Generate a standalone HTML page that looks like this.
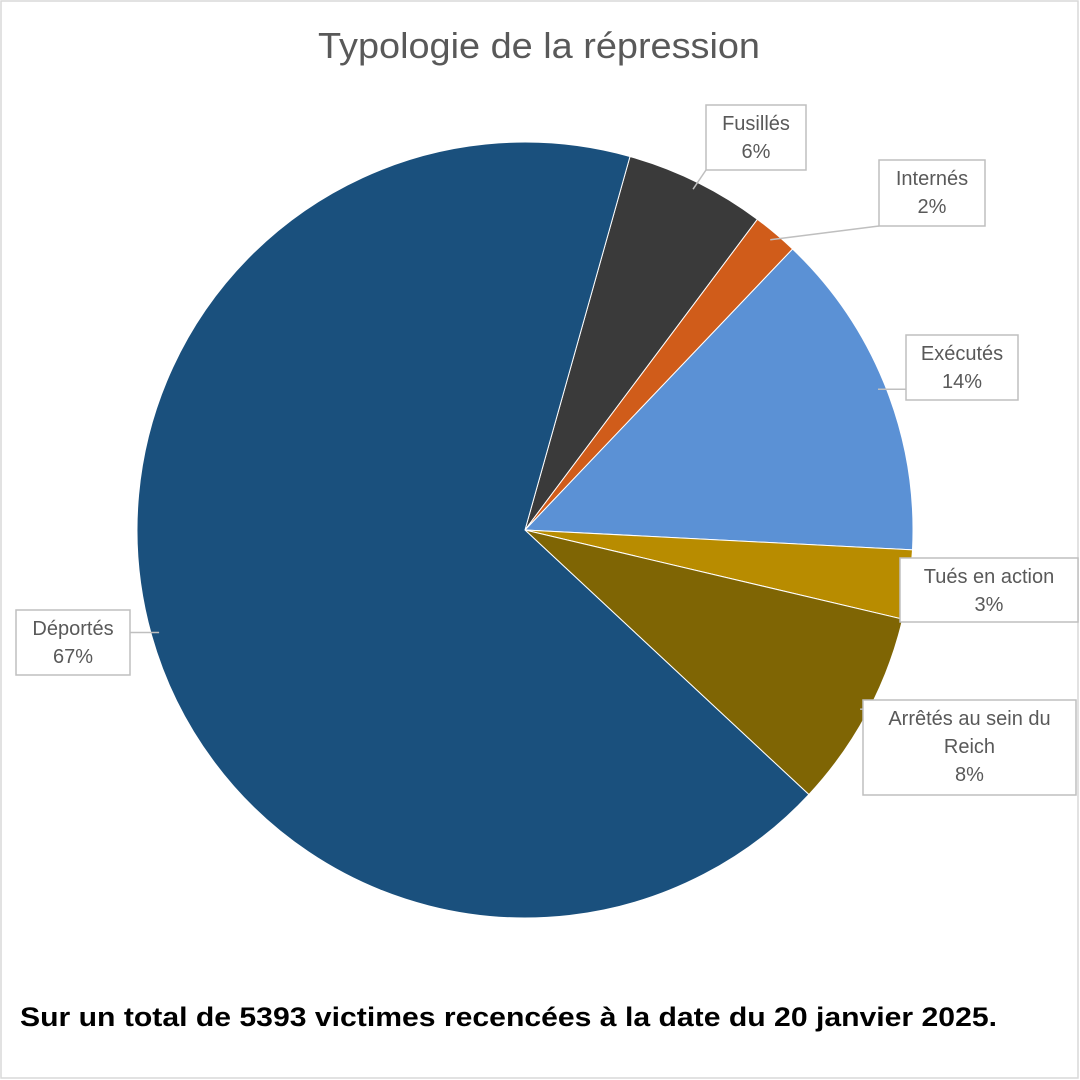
<!DOCTYPE html>
<html><head><meta charset="utf-8"><style>
body{margin:0;background:#fff}
svg{display:block}
text{font-family:"Liberation Sans",sans-serif}
</style></head><body>
<svg id="chart" width="1080" height="1080" viewBox="0 0 1080 1080">
<rect x="1" y="1" width="1077" height="1077" fill="#fff" stroke="#d9d9d9" stroke-width="1.5"/>
<text x="318" y="58" font-size="36" fill="#595959" textLength="442" lengthAdjust="spacingAndGlyphs">Typologie de la répression</text>
<g id="slices"></g>
<g id="labels"></g>
<text x="20" y="1026" font-size="27" font-weight="bold" fill="#000" textLength="977" lengthAdjust="spacingAndGlyphs">Sur un total de 5393 victimes recencées à la date du 20 janvier 2025.</text>
</svg>
<script>
const categories = ["Fusillés","Internés","Exécutés","Tués en action","Arrêtés au sein du Reich","Déportés"];
const values = [316,102,739,155,445,3636];
const colors = ["#3a3a3a","#d05c1a","#5b91d5","#b88c00","#7f6504","#1a507d"];
const labelLines = [["Fusillés"],["Internés"],["Exécutés"],["Tués en action"],["Arrêtés au sein du","Reich"],["Déportés"]];
const boxes = [[706,105,100,65],[879,160,106,66],[906,335,112,65],[900,558,178,64],[863,700,213,95],[16,610,114,65]];
const cx=525, cy=530, r=388, startDeg=15.7;
const NS="http://www.w3.org/2000/svg";
const total=values.reduce((a,b)=>a+b,0);
const sg=document.getElementById('slices'), lg=document.getElementById('labels');
function pt(deg,rad){const a=deg*Math.PI/180;return [cx+rad*Math.sin(a), cy-rad*Math.cos(a)];}
let ang=startDeg;
values.forEach((v,i)=>{
  const sweep=v/total*360, a0=ang, a1=ang+sweep; ang=a1;
  const p0=pt(a0,r), p1=pt(a1,r);
  const p=document.createElementNS(NS,'path');
  p.setAttribute('d',`M${cx},${cy} L${p0[0]},${p0[1]} A${r},${r} 0 ${sweep>180?1:0} 1 ${p1[0]},${p1[1]} Z`);
  p.setAttribute('fill',colors[i]); p.setAttribute('stroke','#fff'); p.setAttribute('stroke-width','1');
  
  
  sg.appendChild(p);
  const [bx,by,bw,bh]=boxes[i];
  const mid=pt((a0+a1)/2, r-8);
  const g=document.createElementNS(NS,'g');
  
  
  const ax=Math.min(Math.max(mid[0],bx),bx+bw), ay=Math.min(Math.max(mid[1],by),by+bh);
  const ln=document.createElementNS(NS,'line');
  ln.setAttribute('x1',mid[0]);ln.setAttribute('y1',mid[1]);ln.setAttribute('x2',ax);ln.setAttribute('y2',ay);
  ln.setAttribute('stroke','#bfbfbf');ln.setAttribute('stroke-width','1.5');
  g.appendChild(ln);
  const rc=document.createElementNS(NS,'rect');
  rc.setAttribute('x',bx);rc.setAttribute('y',by);rc.setAttribute('width',bw);rc.setAttribute('height',bh);
  rc.setAttribute('fill','#fff');rc.setAttribute('stroke','#bfbfbf');rc.setAttribute('stroke-width','1.5');
  g.appendChild(rc);
  const lines=labelLines[i].concat([Math.round(v/total*100)+'%']);
  lines.forEach((s,k)=>{
    const t=document.createElementNS(NS,'text');
    t.setAttribute('x',bx+bw/2);t.setAttribute('y',by+25+k*28);
    t.setAttribute('text-anchor','middle');t.setAttribute('font-size','20');t.setAttribute('fill','#595959');
    t.textContent=s; g.appendChild(t);
  });
  lg.appendChild(g);
});
</script>
</body></html>
